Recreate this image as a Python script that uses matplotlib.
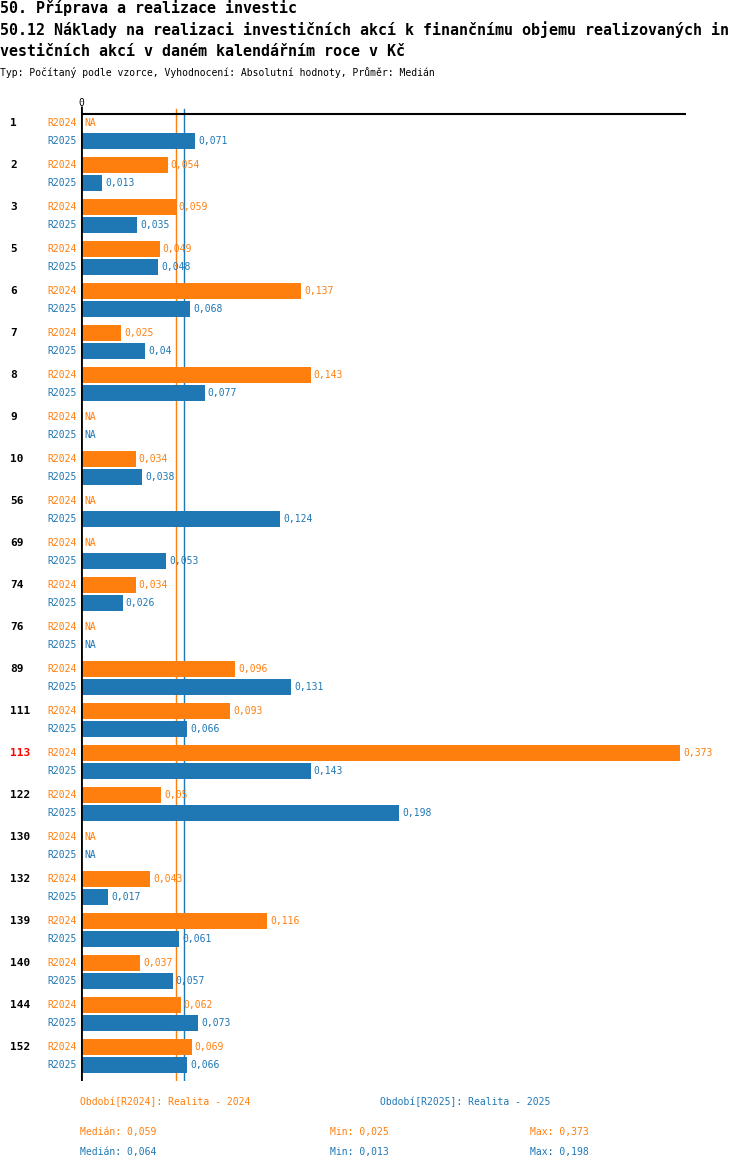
import numpy as np
import matplotlib
matplotlib.use("Agg")
import matplotlib.pyplot as plt
import matplotlib.transforms as mtrans

# Data
groups = ["1", "2", "3", "5", "6", "7", "8", "9", "10", "56", "69", "74", "76",
          "89", "111", "113", "122", "130", "132", "139", "140", "144", "152"]
r2024 = [None, 0.054, 0.059, 0.049, 0.137, 0.025, 0.143, None, 0.034, None, None, 0.034, None,
         0.096, 0.093, 0.373, 0.05, None, 0.043, 0.116, 0.037, 0.062, 0.069]
r2025 = [0.071, 0.013, 0.035, 0.048, 0.068, 0.04, 0.077, None, 0.038, 0.124, 0.053, 0.026, None,
         0.131, 0.066, 0.143, 0.198, None, 0.017, 0.061, 0.057, 0.073, 0.066]
series = ["R2024", "R2025"]
highlight = "113"
median = [0.059, 0.064]
vmin = [0.025, 0.013]
vmax = [0.373, 0.198]
legend_names = ["Období[R2024]: Realita - 2024", "Období[R2025]: Realita - 2025"]

colors = ["#ff7f0e", "#1f77b4"]
mono = "DejaVu Sans Mono"

W, H = 750, 1170
fig = plt.figure(figsize=(W / 100, H / 100), dpi=100)

# axes placed in pixel terms
x0, x1 = 81, 686
ytop, ybot = 106, 1081
ax = fig.add_axes([x0 / W, 1 - ybot / H, (x1 - x0) / W, (ybot - ytop) / H])
ax.set_xlim(0, (x1 - x0) / 1606)
ax.set_ylim(ybot, ytop)
ax.axis("off")

pitch, sub = 42, 18
first = 123

def fmt(v):
    return f"{v:g}".replace(".", ",")

off_r = mtrans.offset_copy(ax.transData, fig=fig, x=3, y=0, units="dots")
off_l = mtrans.offset_copy(ax.transData, fig=fig, x=-4, y=0, units="dots")
grp_tr = mtrans.blended_transform_factory(fig.transFigure, ax.transData)

for i, g in enumerate(groups):
    yc = first + i * pitch
    ax.text(10 / W, yc, g, transform=grp_tr, ha="left", va="center",
            fontsize=8, fontweight="bold", family=mono,
            color="red" if g == highlight else "black")
    for k, vals in enumerate([r2024, r2025]):
        y = yc + k * sub
        v = vals[i]
        ax.text(0, y, series[k], transform=off_l, ha="right", va="center",
                fontsize=7, family=mono, color=colors[k])
        if v is None:
            ax.text(0, y, "NA", transform=off_r, ha="left", va="center",
                    fontsize=7, family=mono, color=colors[k])
        else:
            ax.barh(y, v, height=16, color=colors[k], left=0, zorder=3)
            ax.text(v, y, fmt(v), transform=off_r, ha="left", va="center",
                    fontsize=7, family=mono, color=colors[k], zorder=4)

# median lines (behind bars)
for k in range(2):
    ax.plot([median[k], median[k]], [109, ybot], color=colors[k], lw=1, zorder=1)

# top line and zero axis
ax.plot([0, ax.get_xlim()[1]], [114, 114], color="black", lw=1.5, zorder=2)
ax.plot([0, 0], [ytop, ybot], color="black", lw=2, solid_capstyle="butt", zorder=5)
ax.text(0, 103, "0", ha="center", va="center", fontsize=7, family=mono)

# titles
fig.text(0, 1 - 8 / H, "50. Příprava a realizace investic", ha="left", va="center",
         fontsize=10.8, fontweight="bold", family=mono)
fig.text(0, 1 - 30 / H, "50.12 Náklady na realizaci investičních akcí k finančnímu objemu realizovaných in",
         ha="left", va="center", fontsize=10.8, fontweight="bold", family=mono)
fig.text(0, 1 - 52 / H, "vestičních akcí v daném kalendářním roce v Kč", ha="left", va="center",
         fontsize=10.8, fontweight="bold", family=mono)
fig.text(0, 1 - 73 / H, "Typ: Počítaný podle vzorce, Vyhodnocení: Absolutní hodnoty, Průměr: Medián",
         ha="left", va="center", fontsize=7, family=mono)

# legend and stats
for k, xpx in enumerate([80, 380]):
    fig.text(xpx / W, 1 - 1102 / H, legend_names[k], ha="left", va="center",
             fontsize=7, family=mono, color=colors[k])
for k, ypx in enumerate([1132, 1152]):
    fig.text(80 / W, 1 - ypx / H, "Medián: " + fmt(median[k]), ha="left", va="center",
             fontsize=7, family=mono, color=colors[k])
    fig.text(330 / W, 1 - ypx / H, "Min: " + fmt(vmin[k]), ha="left", va="center",
             fontsize=7, family=mono, color=colors[k])
    fig.text(530 / W, 1 - ypx / H, "Max: " + fmt(vmax[k]), ha="left", va="center",
             fontsize=7, family=mono, color=colors[k])

fig.savefig("out.png", dpi=100)
